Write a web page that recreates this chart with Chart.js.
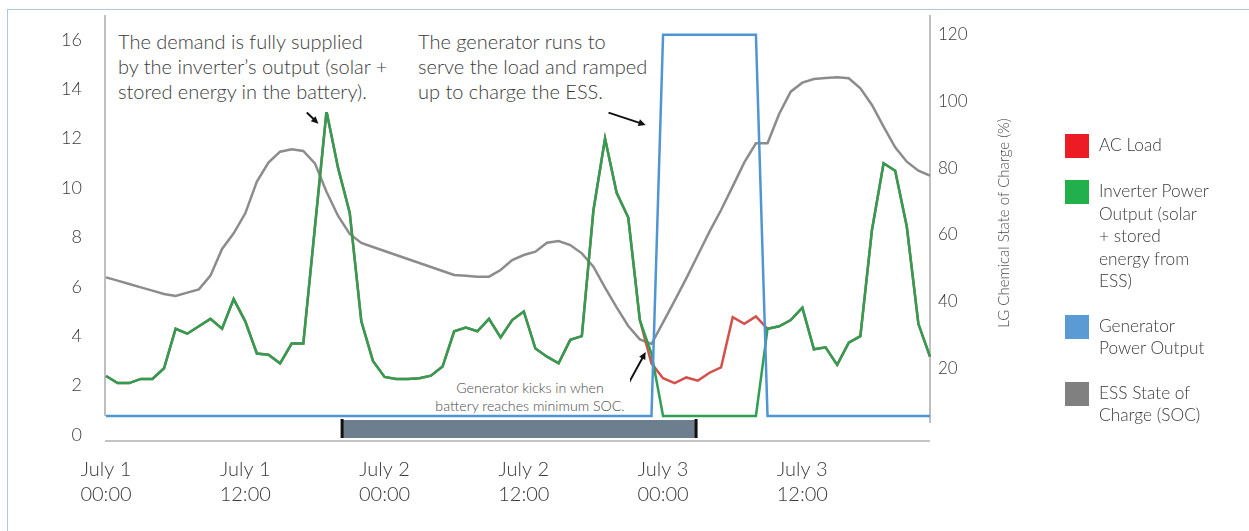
<!DOCTYPE html>
<html>
<head>
<meta charset="utf-8">
<title>Generator / ESS dispatch</title>
<script src="https://cdn.jsdelivr.net/npm/chart.js@4.4.1/dist/chart.umd.min.js"></script>
<style>
  body { margin: 0; background: #fff; font-family: Lato, "Open Sans", sans-serif; font-weight: 300; color: #3a3a3a; }
  #wrap { position: relative; width: 1249px; height: 531px; overflow: hidden; }
  #frame { position: absolute; left: 7px; top: 9px; width: 1400px; height: 700px; border: 1.5px solid #a9c8e8; }
  #chart-box { position: absolute; left: 0; top: 0; width: 1249px; height: 531px; }
  .note { position: absolute; background: #fff; box-sizing: border-box; }
  .note.big { font-size: 20px; line-height: 25px; padding: 14px 0 0 5px; height: 97px; white-space: nowrap; }
  .note.small { font-size: 14.2px; line-height: 18px; text-align: center; color: #4a4a4a; white-space: nowrap; }
  #legend { position: absolute; left: 1065px; top: 134px; font-size: 17.3px; line-height: 22.5px; }
  .leg-item { display: flex; align-items: flex-start; margin-bottom: 22px; }
  .leg-swatch { width: 24px; height: 24px; margin-right: 10px; flex: none; }
</style>
</head>
<body>
<div id="wrap">
  <div id="frame"></div>
  <div id="chart-box"><canvas id="powerChart"></canvas></div>
  <div class="note big" style="left:113px; top:15px; width:284px;">The demand is fully supplied<br>by the inverter’s output (solar +<br>stored energy in the battery).</div>
  <div class="note big" style="left:413px; top:15px; width:238px;">The generator runs to<br>serve the load and ramped<br>up to charge the ESS.</div>
  <div class="note small" style="left:430px; top:379px; width:200px; height:35px;">Generator kicks in when<br>battery reaches minimum SOC.</div>
  <div id="legend"></div>
</div>

<script>
// --- DATA (hourly, July 1 00:00 -> July 3 23:00) ---
const hours = [
  0, 1, 2, 3, 4, 5, 6, 7, 8, 9, 10, 11, 12, 13, 14, 15, 16, 17, 18, 19, 20, 21, 22, 23,
  24, 25, 26, 27, 28, 29, 30, 31, 32, 33, 34, 35, 36, 37, 38, 39, 40, 41, 42, 43, 44, 45, 46, 47,
  48, 49, 50, 51, 52, 53, 54, 55, 56, 57, 58, 59, 60, 61, 62, 63, 64, 65, 66, 67, 68, 69, 70, 71
];
const xTickLabels = [
  ["July 1", "00:00"], ["July 1", "12:00"],
  ["July 2", "00:00"], ["July 2", "12:00"],
  ["July 3", "00:00"], ["July 3", "12:00"]
];
const powerTicks = [0, 2, 4, 6, 8, 10, 12, 14, 16];
const socTicks = [20, 40, 60, 80, 100, 120];

// power (left axis)
const inverterOutput = [
  2.39, 2.1, 2.1, 2.27, 2.27, 2.7, 4.3, 4.1, 4.4, 4.7,
  4.3, 5.5, 4.6, 3.3, 3.25, 2.9, 3.7, 3.7, 8.4, 13.1,
  10.8, 9.0, 4.6, 3.0, 2.35, 2.27, 2.27, 2.3, 2.4, 2.77,
  4.2, 4.35, 4.2, 4.7, 3.95, 4.65, 5.0, 3.5, 3.17, 2.9,
  3.85, 4.0, 9.1, 12.0, 9.8, 8.8, 4.65, 3.3, 0.77, 0.77,
  0.77, 0.77, 0.77, 0.77, 0.77, 0.77, 0.77, 4.3, 4.4, 4.65,
  5.15, 3.47, 3.55, 2.84, 3.74, 4.0, 8.3, 11.0, 10.7, 8.44,
  4.5, 3.17
];
const acLoad = [
  2.39, 2.1, 2.1, 2.27, 2.27, 2.7, 4.3, 4.1, 4.4, 4.7,
  4.3, 5.5, 4.6, 3.3, 3.25, 2.9, 3.7, 3.7, 8.4, 13.1,
  10.8, 9.0, 4.6, 3.0, 2.35, 2.27, 2.27, 2.3, 2.4, 2.77,
  4.2, 4.35, 4.2, 4.7, 3.95, 4.65, 5.0, 3.5, 3.17, 2.9,
  3.85, 4.0, 9.1, 12.0, 9.8, 8.8, 4.65, 2.9, 2.3, 2.1,
  2.33, 2.2, 2.52, 2.74, 4.77, 4.5, 4.8, 4.3, 4.4, 4.65,
  5.15, 3.47, 3.55, 2.84, 3.74, 4.0, 8.3, 11.0, 10.7, 8.44,
  4.5, 3.17
];
const generatorOutput = [
  0.77, 0.77, 0.77, 0.77, 0.77, 0.77, 0.77, 0.77, 0.77, 0.77,
  0.77, 0.77, 0.77, 0.77, 0.77, 0.77, 0.77, 0.77, 0.77, 0.77,
  0.77, 0.77, 0.77, 0.77, 0.77, 0.77, 0.77, 0.77, 0.77, 0.77,
  0.77, 0.77, 0.77, 0.77, 0.77, 0.77, 0.77, 0.77, 0.77, 0.77,
  0.77, 0.77, 0.77, 0.77, 0.77, 0.77, 0.77, 0.77, 16.2, 16.2,
  16.2, 16.2, 16.2, 16.2, 16.2, 16.2, 16.2, 0.77, 0.77, 0.77,
  0.77, 0.77, 0.77, 0.77, 0.77, 0.77, 0.77, 0.77, 0.77, 0.77,
  0.77, 0.77
];
// state of charge (right axis, %)
const essSoc = [
  47.3, 46.3, 45.3, 44.3, 43.3, 42.3, 41.7, 42.7, 43.7, 47.8,
  55.8, 60.5, 66.5, 76, 81.7, 85, 85.7, 85.2, 81.5, 73,
  65.7, 60.3, 57.6, 56.4, 55.2, 54.0, 52.8, 51.6, 50.4, 49.2,
  48, 47.8, 47.5, 47.5, 49.5, 52.5, 54, 55, 57.7, 58.2,
  57, 54.5, 50.5, 44.2, 38.3, 32.7, 28.7, 27.3, 33.8, 40.3,
  47, 54, 61, 67.5, 74.6, 81.8, 87.5, 87.5, 96.3, 103,
  105.7, 106.8, 107.1, 107.3, 107, 104, 99, 92.5, 86.3, 82,
  79.3, 77.8
];

// shaded period on the timeline strip under the plot (hours)
const timelineWindow = [20.3, 50.8];
const offLevel = 0.77;

// legend text, split the way the original wraps it
const legendLines = [
  ["AC Load"],
  ["Inverter Power", "Output (solar", "+ stored", "energy from", "ESS)"],
  ["Generator", "Power Output"],
  ["ESS State of", "Charge (SOC)"]
];

// annotation arrows: [tailHour, tailValue, headHour, headValue] on the power axis
const arrows = [
  [17.3, 13.05, 18.3, 12.6],
  [43.3, 13.05, 46.5, 12.55],
  [45.0, 2.07, 46.5, 3.36]
];

// --- CHART ---
Chart.defaults.font.family = "Lato, 'Open Sans', sans-serif";
Chart.defaults.font.weight = 300;
Chart.defaults.color = "#3a3a3a";

function drawArrow(ctx, x1, y1, x2, y2) {
  const ang = Math.atan2(y2 - y1, x2 - x1);
  const len = 8;
  ctx.beginPath();
  ctx.moveTo(x1, y1);
  ctx.lineTo(x2 - Math.cos(ang) * len * 0.7, y2 - Math.sin(ang) * len * 0.7);
  ctx.stroke();
  ctx.beginPath();
  ctx.moveTo(x2, y2);
  ctx.lineTo(x2 - len * Math.cos(ang - 0.45), y2 - len * Math.sin(ang - 0.45));
  ctx.lineTo(x2 - len * Math.cos(ang + 0.45), y2 - len * Math.sin(ang + 0.45));
  ctx.closePath();
  ctx.fill();
}

const decorations = {
  id: "decorations",
  beforeDatasetsDraw(chart) {
    const { ctx, chartArea: a, scales } = chart;
    const yOff = scales.y.getPixelForValue(offLevel);
    ctx.save();
    ctx.strokeStyle = "#aaaaaa";
    ctx.lineWidth = 1.5;
    ctx.beginPath();
    ctx.moveTo(a.left - 1, a.top);
    ctx.lineTo(a.left - 1, yOff);
    ctx.moveTo(a.right, a.top);
    ctx.lineTo(a.right, yOff + 7);
    ctx.stroke();
    ctx.restore();
  },
  afterDatasetsDraw(chart) {
    const { ctx, chartArea: a, scales } = chart;
    const x = scales.x, y = scales.y;
    ctx.save();
    // baseline of the timeline strip
    ctx.strokeStyle = "#b0b0b0";
    ctx.lineWidth = 1.5;
    ctx.beginPath();
    ctx.moveTo(a.left - 1, a.bottom + 6);
    ctx.lineTo(a.right, a.bottom + 6);
    ctx.stroke();
    // shaded period
    const x0 = x.getPixelForValue(timelineWindow[0]);
    const x1 = x.getPixelForValue(timelineWindow[1]);
    ctx.fillStyle = "#6d7e8e";
    ctx.fillRect(x0, a.bottom - 15, x1 - x0, 18);
    ctx.fillStyle = "#111";
    ctx.fillRect(x0 - 1, a.bottom - 16, 3, 19);
    ctx.fillRect(x1 - 1, a.bottom - 16, 3, 19);
    // arrows
    ctx.strokeStyle = "#111";
    ctx.fillStyle = "#111";
    ctx.lineWidth = 2;
    arrows.forEach(([h1, v1, h2, v2]) => {
      drawArrow(ctx, x.getPixelForValue(h1), y.getPixelForValue(v1),
        x.getPixelForValue(h2), y.getPixelForValue(v2));
    });
    ctx.restore();
  },
  afterDraw(chart) {
    const { ctx, chartArea: a } = chart;
    ctx.save();
    ctx.translate(a.right + 74, 223);
    ctx.rotate(-Math.PI / 2);
    ctx.font = "300 15px Lato, 'Open Sans', sans-serif";
    ctx.fillStyle = "#4a4a4a";
    ctx.textAlign = "center";
    ctx.textBaseline = "middle";
    ctx.fillText("LG Chemical State of Charge (%)", 0, 0);
    ctx.restore();
  }
};

function fixAxisBox(width) {
  return (s) => {
    s.width = width;
    s.paddingTop = 0;
    s.paddingBottom = 0;
  };
}

const chart = new Chart(document.getElementById("powerChart"), {
  type: "line",
  data: {
    labels: hours,
    datasets: [
      {
        label: "AC Load",
        data: acLoad,
        borderColor: "#d4504b",
        backgroundColor: "#ed1c24",
        yAxisID: "y",
        order: 2
      },
      {
        label: "Inverter Power Output (solar + stored energy from ESS)",
        data: inverterOutput,
        borderColor: "#2e9f52",
        backgroundColor: "#21b04b",
        yAxisID: "y",
        order: 1
      },
      {
        label: "Generator Power Output",
        data: generatorOutput,
        borderColor: "#4f95d3",
        backgroundColor: "#5b9bd5",
        yAxisID: "y",
        order: 0
      },
      {
        label: "ESS State of Charge (SOC)",
        data: essSoc,
        borderColor: "#8c8c8c",
        backgroundColor: "#808080",
        yAxisID: "y1",
        order: 3
      }
    ]
  },
  options: {
    responsive: true,
    maintainAspectRatio: false,
    animation: false,
    layout: { padding: { top: 15, right: 249, left: 0, bottom: 0 } },
    elements: {
      point: { radius: 0 },
      line: { tension: 0, borderWidth: 2.5, fill: false }
    },
    plugins: {
      legend: { display: false },
      tooltip: { enabled: false }
    },
    scales: {
      x: {
        type: "category",
        offset: false,
        border: { display: false },
        grid: {
          drawTicks: false,
          color: (c) => (c.index % 12 === 0 && c.index > 0 ? "#e8edf2" : "transparent")
        },
        ticks: {
          autoSkip: false,
          maxRotation: 0,
          padding: 22,
          font: { size: 20, lineHeight: 1.25 },
          callback: (val, i) => (i % 12 === 0 ? xTickLabels[i / 12] : null)
        },
        afterFit(s) { s.height = 96; s.paddingLeft = 0; s.paddingRight = 0; }
      },
      y: {
        position: "left",
        min: 0,
        max: 17,
        afterBuildTicks(s) { s.ticks = powerTicks.map((v) => ({ value: v })); },
        grid: { display: false, drawTicks: false },
        border: { display: false },
        ticks: { padding: 24, font: { size: 18 } },
        afterFit: fixAxisBox(106)
      },
      y1: {
        position: "right",
        min: 0,
        max: 126,
        afterBuildTicks(s) { s.ticks = socTicks.map((v) => ({ value: v })); },
        grid: { display: false, drawTicks: false },
        border: { display: false },
        ticks: { padding: 8, font: { size: 17 } },
        afterFit: fixAxisBox(70)
      }
    }
  },
  plugins: [decorations]
});

// --- HTML LEGEND ---
const legendEl = document.getElementById("legend");
chart.data.datasets.forEach((ds, i) => {
  const item = document.createElement("div");
  item.className = "leg-item";
  const sw = document.createElement("div");
  sw.className = "leg-swatch";
  sw.style.background = ds.backgroundColor;
  const txt = document.createElement("div");
  txt.innerHTML = legendLines[i].join("<br>");
  item.appendChild(sw);
  item.appendChild(txt);
  legendEl.appendChild(item);
});
</script>
</body>
</html>
